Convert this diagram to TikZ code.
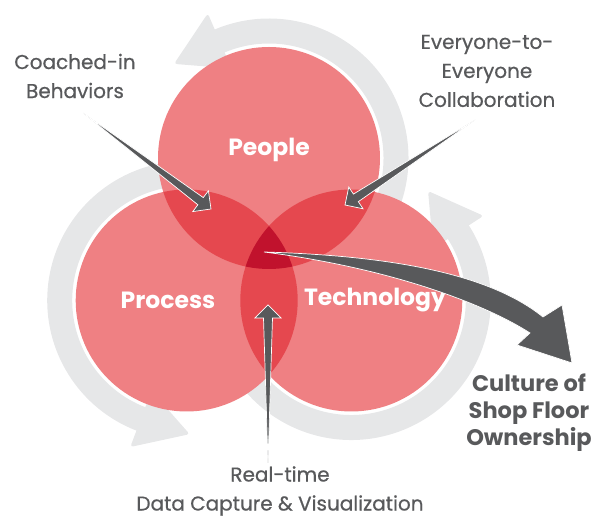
\documentclass[tikz,border=0pt]{standalone}
\usepackage{fontspec}
\setmainfont{Poppins}
\newfontfamily\labelfont{Poppins}[FakeBold=0.6]
\usetikzlibrary{calc,positioning}

\definecolor{petal}{RGB}{239,128,131}
\definecolor{petaltwo}{RGB}{229,72,79}
\definecolor{petalcore}{RGB}{193,18,45}
\definecolor{ringgrey}{RGB}{230,231,232}
\definecolor{inkgrey}{RGB}{88,89,91}

\tikzset{
  ring/.style={draw=ringgrey,line width=25pt},
  ringhead/.style={fill=ringgrey,rounded corners=3pt},
  pointer/.style={fill=inkgrey,draw=white,line width=0.7pt,line join=miter},
  greylabel/.style={text=inkgrey,align=center,font=\labelfont\fontsize{20}{29}\selectfont},
  circlabel/.style={text=white,font=\bfseries\fontsize{23.5}{26}\selectfont},
  endlabel/.style={text=inkgrey,align=center,font=\bfseries\fontsize{22.5}{27}\selectfont}
}

\newcommand{\rad}{111}
% tapered pointer: thin tail #1, head at #2
\newcommand{\taperto}[2]{%
  \filldraw[pointer] (#1)
    -- ($(#2)!13pt!(#1)!4.5pt!90:(#1)$)
    -- ($(#2)!13pt!(#1)!13pt!90:(#1)$)
    -- (#2)
    -- ($(#2)!13pt!(#1)!13pt!-90:(#1)$)
    -- ($(#2)!13pt!(#1)!4.5pt!-90:(#1)$)
    -- cycle;}

\begin{document}
\begin{tikzpicture}[x=1pt,y=1pt,line join=round]
\useasboundingbox (0,0) rectangle (595,518);

\coordinate (people) at (269,360);
\coordinate (process) at (186.7,217.5);
\coordinate (tech) at (351.3,217.5);
\coordinate (core) at (264,266);

% grey cycle arrows behind the circles
\draw[ring] ([shift={(-35:127)}]people) arc[start angle=-35,end angle=113.3,radius=127];
\draw[ring] ([shift={(85:127)}]process) arc[start angle=85,end angle=249.3,radius=127];
\draw[ring] ([shift={(200:127)}]tech) arc[start angle=200,end angle=393,radius=127];
\begin{scope}[shift={(people)},rotate=113.3]
  \fill[ringhead] (97,-1) -- (157,-1) -- (124,50) -- cycle;
\end{scope}
\begin{scope}[shift={(process)},rotate=249.3]
  \fill[ringhead] (97,-1) -- (157,-1) -- (124,50) -- cycle;
\end{scope}
\begin{scope}[shift={(tech)},rotate=33]
  \fill[ringhead] (97,-1) -- (157,-1) -- (124,50) -- cycle;
\end{scope}

% circles and overlaps
\fill[petal] (people) circle[radius=\rad] (process) circle[radius=\rad] (tech) circle[radius=\rad];
\begin{scope}
  \clip (people) circle[radius=\rad];
  \fill[petaltwo] (process) circle[radius=\rad] (tech) circle[radius=\rad];
\end{scope}
\begin{scope}
  \clip (process) circle[radius=\rad];
  \fill[petaltwo] (tech) circle[radius=\rad];
\end{scope}
\begin{scope}
  \clip (people) circle[radius=\rad];
  \clip (process) circle[radius=\rad];
  \fill[petalcore] (tech) circle[radius=\rad];
\end{scope}

\node[circlabel] (peopletext) at (269,368) {People};
\node[circlabel] (processtext) at (168,218) {Process};
\node[circlabel] (techtext) at (375,218) {Technology};

\node[greylabel] (coached) at (75,442) {Coached-in\\Behaviors};
\node[greylabel] (everyone) at (487,447) {Everyone-to-\\Everyone\\Collaboration};
\node[greylabel] (realtime) at (280,27) {Real-time\\Data Capture \& Visualization};
\node[endlabel] (culture) at (529,105) {Culture of\\Shop Floor\\Ownership};

\coordinate (coachedtail) at (83,405);
\coordinate (coachedtip) at (211,309);
\coordinate (everyonetail) at (475,398);
\coordinate (everyonetip) at (345,313);
\coordinate (realtimetail) at (268,55);
\coordinate (realtimetip) at (268,213);
\coordinate (bigtip) at (572,155);

\taperto{coachedtail}{coachedtip}
\taperto{everyonetail}{everyonetip}
\taperto{realtimetail}{realtimetip}

\filldraw[pointer] (core) .. controls (400,262) and (492,242) .. ([shift={(-29,46)}]bigtip)
  -- ([shift={(-10,58)}]bigtip) -- (bigtip) -- ([shift={(-55,18)}]bigtip)
  -- ([shift={(-42,30)}]bigtip) .. controls (485,214) and (390,250) .. (core) -- cycle;
\end{tikzpicture}
\end{document}
